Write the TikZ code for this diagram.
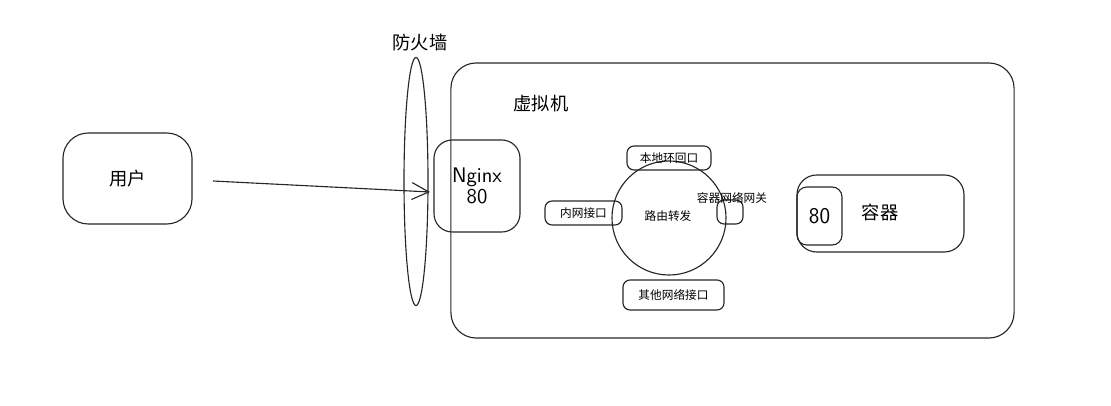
\documentclass[tikz,border=0pt]{standalone}
\usepackage{fontspec}
\setmainfont{Noto Sans CJK SC}
\usetikzlibrary{shapes.geometric, arrows.meta}
\tikzset{
  box/.style={draw=black!85, line width=0.8pt, rounded corners=#1, inner sep=0pt},
  box/.default=5pt,
  ring/.style={draw=black!85, line width=0.8pt, inner sep=0pt},
  big/.style={font=\fontsize{13}{15}\selectfont},
  small/.style={font=\fontsize{8.3}{9}\selectfont},
  hand/.style={font=\fontsize{15}{16}\selectfont\sffamily, align=center}
}
\begin{document}
\begin{tikzpicture}[x=0.025cm, y=-0.025cm]
  \useasboundingbox (0,0) rectangle (1111,406);

  % --- USER ---
  \node[box=18pt, big, minimum width=3.225cm, minimum height=2.275cm] (user) at (127.5,178.5) {用户};

  % --- FIREWALL ---
  \node[ring, ellipse, minimum width=0.6cm, minimum height=6.2cm] (fw) at (416,181.5) {};
  \node[big] (fwlabel) at (420,43) {防火墙};

  % --- VIRTUAL MACHINE ---
  \node[box=18pt, minimum width=14.075cm, minimum height=6.875cm] (vm) at (732.5,200.5) {};
  \node[big] (vmlabel) at (541,104) {虚拟机};

  % Nginx entry
  \node[box=13pt, hand, minimum width=2.15cm, minimum height=2.3cm] (nginx) at (477,186) {Nginx\\[-1pt]80};

  % --- ROUTING ---
  \node[ring, circle, minimum size=2.85cm] (router) at (669,218) {};
  \node[small] (routerlabel) at (668,216) {路由转发};
  \node[box, small, minimum width=2.1cm, minimum height=0.6cm] (loop) at (669,158) {本地环回口};
  \node[box, small, minimum width=1.925cm, minimum height=0.6cm] (inner) at (583.5,213) {内网接口};
  \node[box, minimum width=0.65cm, minimum height=0.6cm] (gw) at (730,212) {};
  \node[small] (gwlabel) at (732,198) {容器网络网关};
  \node[box, small, minimum width=2.525cm, minimum height=0.75cm] (other) at (673.5,295) {其他网络接口};

  % --- CONTAINER ---
  \node[box=14pt, minimum width=4.175cm, minimum height=1.925cm] (ctr) at (880.5,213.5) {};
  \node[big] (ctrlabel) at (880,212) {容器};
  \node[box=7pt, hand, font=\fontsize{16}{17}\selectfont\sffamily, minimum width=1.125cm, minimum height=1.45cm] (port) at (819.5,216) {80};

  % --- REQUEST ---
  \coordinate (req) at (213,181);
  \coordinate (fwin) at (430,192);
  \draw[draw=black!85, line width=0.8pt, -{Straight Barb[length=12pt, width=12pt]}] (req) -- (fwin);
\end{tikzpicture}
\end{document}
